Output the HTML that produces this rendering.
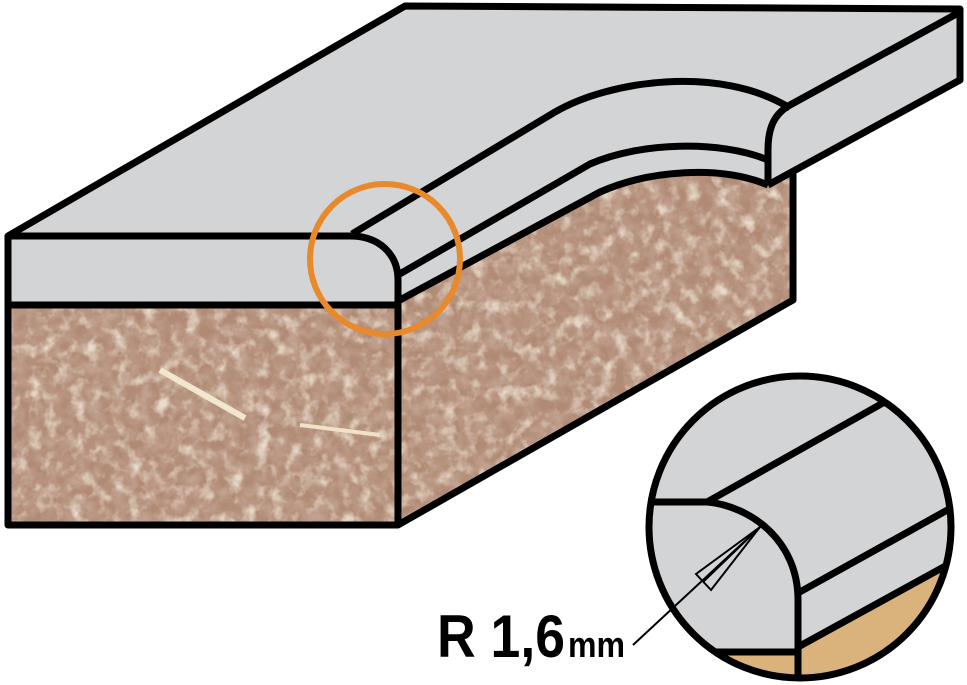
<!DOCTYPE html>
<html><head><style>html,body{margin:0;padding:0;background:#fff}svg{display:block}</style></head>
<body>
<svg width="967" height="685" viewBox="0 0 967 685" xmlns="http://www.w3.org/2000/svg">
<defs>
<filter id="chip" x="0" y="0" width="100%" height="100%">
<feTurbulence type="fractalNoise" baseFrequency="0.08" numOctaves="3" seed="4" result="n"/>
<feColorMatrix in="n" type="matrix" values="0 0 0 0 0.55  0 0 0 0 0.38  0 0 0 0 0.30  1.8 1.0 0 0 -1.0" result="c"/>
<feComposite in="c" in2="SourceGraphic" operator="in"/>
</filter>
<filter id="chip2" x="0" y="0" width="100%" height="100%">
<feTurbulence type="fractalNoise" baseFrequency="0.07" numOctaves="3" seed="9" result="n"/>
<feColorMatrix in="n" type="matrix" values="0 0 0 0 0.92  0 0 0 0 0.85  0 0 0 0 0.74  2.4 -1.0 0 0 -0.65" result="c"/>
<feComposite in="c" in2="SourceGraphic" operator="in"/>
</filter>
<clipPath id="ic"><circle cx="800" cy="527" r="151"/></clipPath>
</defs>

<path d="M8,236 L405,6 L960,9 L960,80 L793,172 L768,185 L398,300 L398,305 L8,305 Z" fill="#d3d4d6"/>

<g>
<path d="M8,305 L398,305 L398,300 L600,192 C650,170 720,165 768,185 L793,172 L793,300 L398,525 L8,525 Z" fill="#b08a74"/>
<path d="M8,305 L398,305 L398,300 L600,192 C650,170 720,165 768,185 L793,172 L793,300 L398,525 L8,525 Z" fill="#000" filter="url(#chip)" opacity="0.85"/>
<path d="M8,305 L398,305 L398,300 L600,192 C650,170 720,165 768,185 L793,172 L793,300 L398,525 L8,525 Z" fill="#fff" filter="url(#chip2)" opacity="0.8"/>
<line x1="160" y1="370" x2="245" y2="418" stroke="#f1e6d0" stroke-width="6"/>
<line x1="300" y1="425" x2="380" y2="435" stroke="#efe2c8" stroke-width="4"/>
</g>

<g fill="none" stroke="#000" stroke-width="7" stroke-linejoin="round">
<path d="M8,305 L8,236 L405,6 L960,9 L960,80 L768,185"/>
<path d="M8,236 L350,236 C380,236 398,255 398,280 L398,525"/>
<path d="M8,305 L398,305"/>
<path d="M8,305 L8,525 L398,525 L793,300 L793,172"/>
<path d="M960,12 L790,105 C774,114 768,128 768,150 L768,185"/>
<path d="M352,234 L555,112 C610,80 720,65 790,108"/>
<path d="M398,275 L590,164 C640,142 720,140 768,160"/>
<path d="M398,301 L600,192 C650,170 720,165 768,185"/>
</g>

<circle cx="385" cy="259" r="75" fill="none" stroke="#e8892b" stroke-width="6"/>

<g clip-path="url(#ic)">
<rect x="640" y="370" width="320" height="320" fill="#d3d4d6"/>
<path d="M640,652 L798,652 L798,690 L640,690 Z" fill="#d9b27c"/>
<path d="M798,647 L960,560 L960,690 L798,690 Z" fill="#d9b27c"/>
<g fill="none" stroke="#000" stroke-width="7">
<path d="M640,502 L707,502 C750,506 798,540 798,600 L798,690"/>
<path d="M707,502 L890,399"/>
<path d="M798,593 L960,503"/>
<path d="M798,647 L960,558"/>
<path d="M700,652 L798,652"/>
</g>
<g fill="none" stroke="#000" stroke-width="2">
<path d="M760,527 L696,574 L711,590 Z" fill="#d3d4d6"/>
<line x1="760" y1="527" x2="703" y2="582"/>
</g>
</g>
<line x1="633" y1="645" x2="760" y2="527" stroke="#000" stroke-width="2"/>
<circle cx="800" cy="527" r="151" fill="none" stroke="#000" stroke-width="7"/>

<text x="437" y="657" font-family="'Liberation Sans Narrow','Liberation Sans',sans-serif" font-weight="bold" font-size="60" textLength="128" lengthAdjust="spacingAndGlyphs">R 1,6</text>
<text x="568" y="657" font-family="'Liberation Sans Narrow','Liberation Sans',sans-serif" font-weight="bold" font-size="36" textLength="57" lengthAdjust="spacingAndGlyphs">mm</text>
</svg>
</body></html>
